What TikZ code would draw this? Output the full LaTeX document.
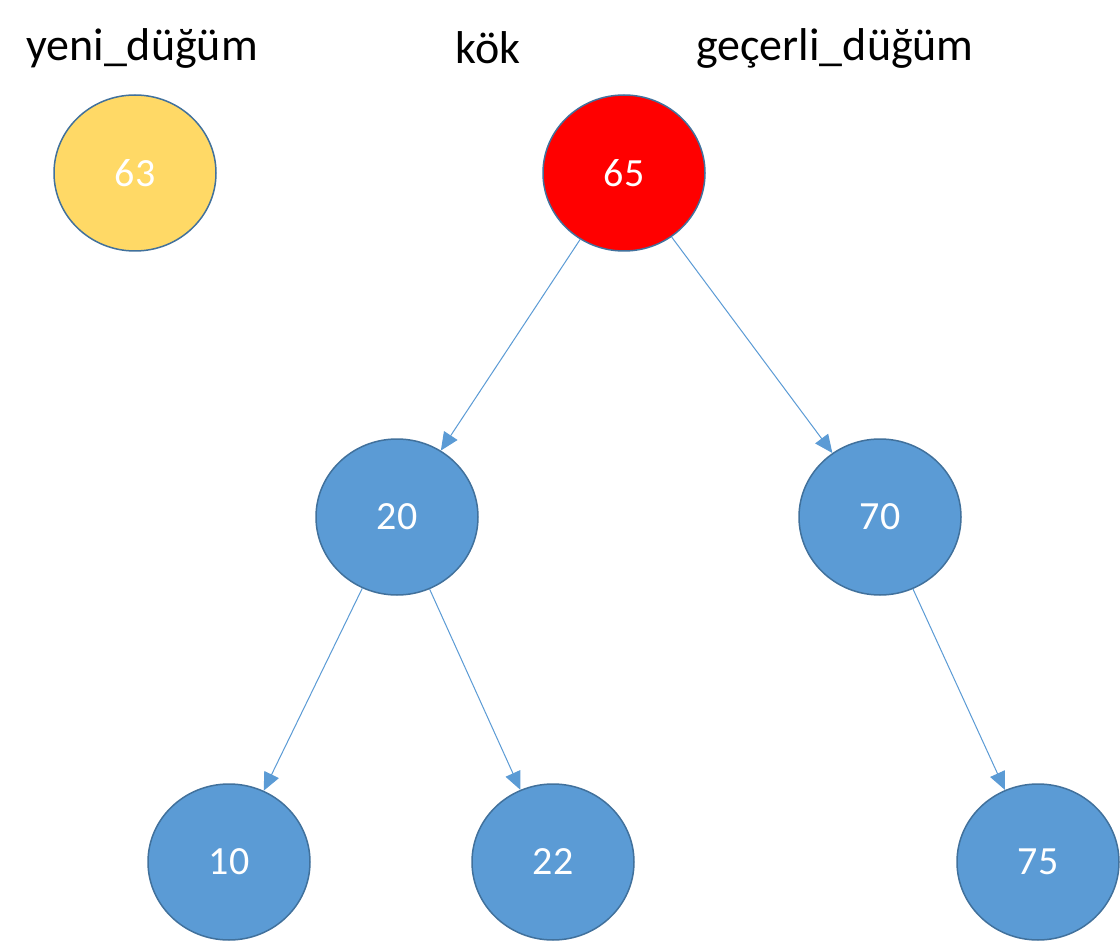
\documentclass[tikz,border=0pt]{standalone}
\usepackage{fontspec}
\setmainfont{Carlito}
\usetikzlibrary{arrows.meta}
\definecolor{nfill}{HTML}{5B9BD5}
\definecolor{nborder}{HTML}{41719C}
\definecolor{yfill}{HTML}{FFD966}
\begin{document}
\begin{tikzpicture}[x=1pt,y=-1pt,
  nd/.style={ellipse,minimum width=162pt,minimum height=156pt,draw=nborder,line width=1.5pt,fill=nfill,text=white,font=\fontsize{40}{48}\selectfont,inner sep=0pt},
  lbl/.style={font=\fontsize{46}{54}\selectfont,text=black},
  ar/.style={draw=nfill,line width=1pt,-{Triangle[length=18pt,width=16pt]}}]
\useasboundingbox (0,0) rectangle (1120,944);
\fill[white] (0,0) rectangle (1120,944);
\tikzset{every node/.append style={}}
\usetikzlibrary{shapes.geometric}
\node[nd,fill=yfill] (n63) at (135,173) {63};
\node[nd,fill=red] (n65) at (624,173) {65};
\node[nd] (n20) at (397,517) {20};
\node[nd] (n70) at (880,517) {70};
\node[nd] (n10) at (229,862) {10};
\node[nd] (n22) at (553,862) {22};
\node[nd] (n75) at (1038,862) {75};
\node[lbl] (l1) at (142,48) {yeni\_düğüm};
\node[lbl] (l2) at (488,48) {kök};
\node[lbl] (l3) at (835,48) {geçerli\_düğüm};
\draw[ar] (n65) -- (n20);
\draw[ar] (n65) -- (n70);
\draw[ar] (n20) -- (n10);
\draw[ar] (n20) -- (n22);
\draw[ar] (n70) -- (n75);
\end{tikzpicture}
\end{document}
